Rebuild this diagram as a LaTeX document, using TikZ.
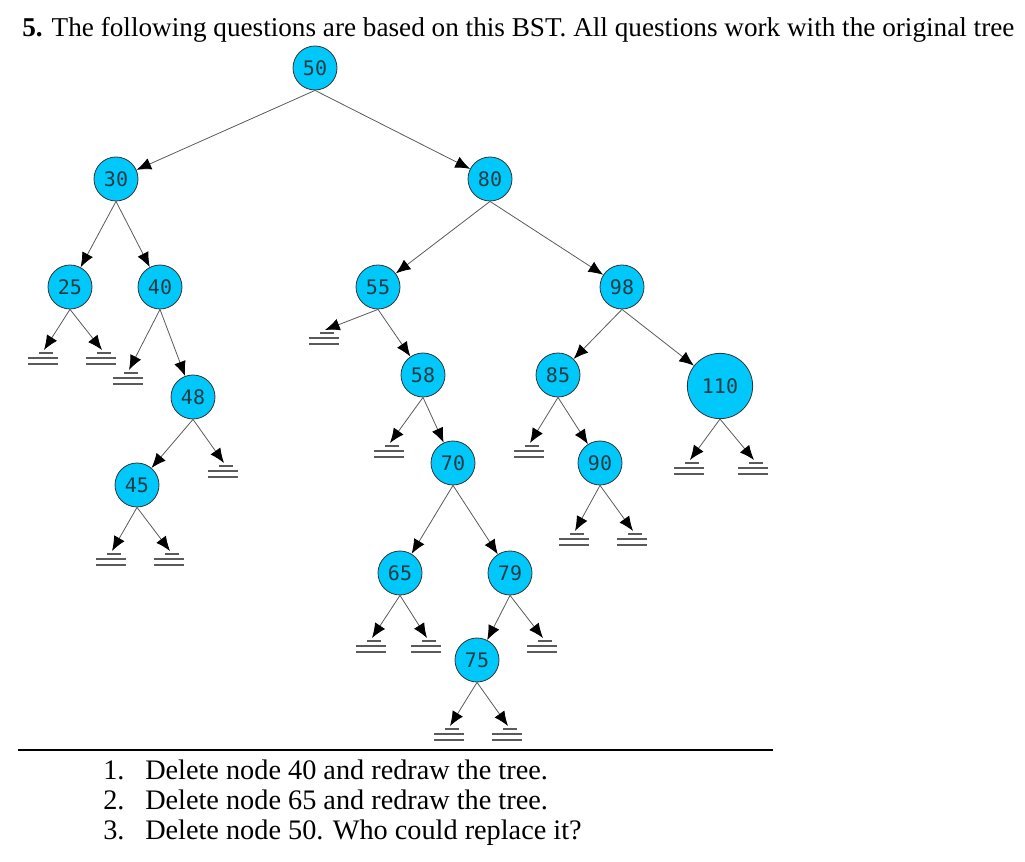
\documentclass[tikz,border=0pt]{standalone}
\usepackage{fontspec}
\setmainfont{Liberation Serif}
\newfontfamily\keyfont{DejaVu Sans Mono}
\usetikzlibrary{arrows.meta}
\definecolor{keyfill}{HTML}{00C8FA}
\definecolor{keyink}{HTML}{1E3C46}
\definecolor{edgegray}{HTML}{5A5A5A}
\tikzset{
  key/.style={circle,draw=black!80,line width=0.6pt,fill=keyfill,minimum size=33pt,
    inner sep=0pt,font=\keyfont\fontsize{15}{17}\selectfont,text=keyink},
  bigkey/.style={key,minimum size=49pt},
  link/.style={-{Latex[length=11pt,width=9pt,color=black]},draw=edgegray,line width=0.6pt},
  gndline/.style={draw=edgegray,line width=0.9pt},
  question/.style={font=\fontsize{21.2}{25}\selectfont,anchor=base west,inner sep=0pt},
}
\begin{document}
\begin{tikzpicture}[x=0.75pt,y=-0.75pt]
  \useasboundingbox (0,0) rectangle (1025,862);
  % header
  \node[question,font=\fontsize{20.4}{24}\selectfont] (head) at (22,37) {\textbf{5.} The following questions are based on this BST. All questions work with the original tree};
  % keys
  \node[key] (n50) at (315,68) {50};
  \node[key] (n30) at (116,179) {30};
  \node[key] (n80) at (490,179) {80};
  \node[key] (n25) at (70,287) {25};
  \node[key] (n40) at (160,287) {40};
  \node[key] (n55) at (378,287) {55};
  \node[key] (n98) at (622,287) {98};
  \node[key] (n48) at (193,397) {48};
  \node[key] (n58) at (423,375) {58};
  \node[key] (n85) at (558,375) {85};
  \node[bigkey] (n110) at (720,386) {110};
  \node[key] (n45) at (137,485) {45};
  \node[key] (n70) at (453,463) {70};
  \node[key] (n90) at (600,463) {90};
  \node[key] (n65) at (400,573) {65};
  \node[key] (n79) at (510,573) {79};
  \node[key] (n75) at (477,660) {75};
  % null children
  \foreach \g/\x/\y in {g25l/44/350,g25r/102/350,g40l/129/370,g55l/325/330,g48r/224/463,
    g58l/390/443,g85l/530/443,g110l/690/460,g110r/754/460,g45l/112/551,g45r/170/551,
    g90l/575/531,g90r/633/531,g65l/372/638,g65r/427/638,g79r/543/638,g75l/450/726,g75r/508/726}
  {
    \coordinate (\g) at (\x,\y);
    \draw[gndline] (\x-5,\y+3) -- (\x+9,\y+3)
      (\x-16,\y+8) -- (\x+14,\y+8)
      (\x-16,\y+14) -- (\x+14,\y+14);
  }
  % links
  \foreach \a/\b in {n50/n30,n50/n80,n30/n25,n30/n40,n80/n55,n80/n98,n40/n48,n55/n58,
    n98/n85,n98/n110,n48/n45,n58/n70,n85/n90,n70/n65,n70/n79,n79/n75}
    \draw[link] (\a.south) -- (\b);
  \foreach \a/\b in {n25/g25l,n25/g25r,n40/g40l,n55/g55l,n48/g48r,n58/g58l,n85/g85l,
    n110/g110l,n110/g110r,n45/g45l,n45/g45r,n90/g90l,n90/g90r,n65/g65l,n65/g65r,
    n79/g79r,n75/g75l,n75/g75r}
    \draw[link] (\a.south) -- (\b);
  % questions
  \draw[line width=2pt] (18,750) -- (773,750);
  \foreach \i/\t [count=\k] in {1/{Delete node 40 and redraw the tree.},
    2/{Delete node 65 and redraw the tree.},3/{Delete node 50. Who could replace it?}}
  {
    \node[question] (num\k) at (103,749+30*\k) {\i.};
    \node[question] (q\k) at (145,749+30*\k) {\t};
  }
\end{tikzpicture}
\end{document}
